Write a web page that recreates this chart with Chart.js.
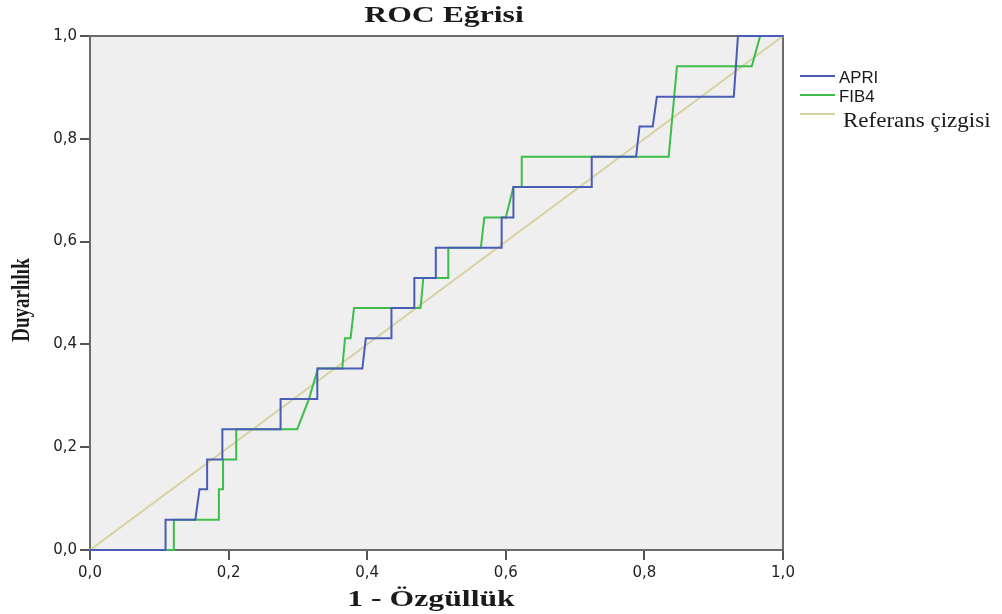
<!DOCTYPE html>
<html>
<head>
<meta charset="utf-8">
<script src="https://cdn.jsdelivr.net/npm/chart.js@4.4.1/dist/chart.umd.min.js"></script>
<style>
  html, body { margin: 0; padding: 0; background: #fff; }
</style>
</head>
<body>
<canvas id="rocChart" width="1002" height="614"></canvas>
<script>
const apriX = [0, 0.109, 0.109, 0.152, 0.158, 0.169, 0.169, 0.191, 0.191, 0.275, 0.275, 0.328, 0.328, 0.393, 0.398, 0.435, 0.435, 0.468, 0.468, 0.499, 0.499, 0.594, 0.594, 0.611, 0.611, 0.724, 0.724, 0.788, 0.793, 0.812, 0.818, 0.929, 0.935, 1];
const apriY = [0, 0, 0.059, 0.059, 0.118, 0.118, 0.176, 0.176, 0.235, 0.235, 0.294, 0.294, 0.353, 0.353, 0.412, 0.412, 0.471, 0.471, 0.529, 0.529, 0.588, 0.588, 0.647, 0.647, 0.706, 0.706, 0.765, 0.765, 0.824, 0.824, 0.882, 0.882, 1, 1];

const fib4X = [0, 0.121, 0.121, 0.186, 0.186, 0.192, 0.192, 0.211, 0.211, 0.299, 0.316, 0.329, 0.364, 0.368, 0.376, 0.381, 0.477, 0.481, 0.517, 0.517, 0.564, 0.569, 0.600, 0.611, 0.623, 0.623, 0.835, 0.847, 0.955, 0.967, 1];
const fib4Y = [0, 0, 0.059, 0.059, 0.118, 0.118, 0.176, 0.176, 0.235, 0.235, 0.294, 0.353, 0.353, 0.412, 0.412, 0.471, 0.471, 0.529, 0.529, 0.588, 0.588, 0.647, 0.647, 0.706, 0.706, 0.765, 0.765, 0.941, 0.941, 1, 1];

const refX = [0, 1];
const refY = [0, 1];

const serieNombres = ['APRI', 'FIB4', 'Referans çizgisi'];
const ejeTicks = [0, 0.2, 0.4, 0.6, 0.8, 1.0];

const tituloGrafico = 'ROC Eğrisi';
const tituloX = '1 - Özgüllük';
const tituloY = 'Duyarlılık';

// Convertir pares x/y en puntos
function puntos(xs, ys) {
    return xs.map((x, i) => ({ x: x, y: ys[i] }));
}

// Texto estirado horizontalmente (el original está ensanchado)
function textoEstirado(ctx, texto, x, y, escala) {
    ctx.save();
    ctx.translate(x, y);
    ctx.scale(escala, 1);
    ctx.fillText(texto, 0, 0);
    ctx.restore();
}

// Fondo gris y marco del área de trazado
const fondoPlugin = {
    id: 'fondo',
    beforeDatasetsDraw(chart) {
        const { ctx, chartArea: a } = chart;
        ctx.save();
        ctx.fillStyle = '#efefef';
        ctx.fillRect(a.left, a.top, a.right - a.left, a.bottom - a.top);
        ctx.strokeStyle = '#6b6b6b';
        ctx.lineWidth = 2;
        ctx.strokeRect(a.left, a.top, a.right - a.left, a.bottom - a.top);
        ctx.restore();
    }
};

// Títulos y leyenda dibujados a mano
const textosPlugin = {
    id: 'textos',
    afterDraw(chart) {
        const ctx = chart.ctx;
        ctx.save();
        ctx.fillStyle = '#1a1a1a';
        ctx.textAlign = 'center';
        ctx.textBaseline = 'alphabetic';

        ctx.font = 'bold 23px "Liberation Serif", "Times New Roman", serif';
        textoEstirado(ctx, tituloGrafico, 444, 22, 1.38);
        textoEstirado(ctx, tituloX, 431, 606, 1.38);

        // Título del eje Y (girado)
        ctx.save();
        ctx.translate(29, 300);
        ctx.rotate(-Math.PI / 2);
        ctx.scale(1, 1.35);
        ctx.font = 'bold 19px "Liberation Serif", "Times New Roman", serif';
        ctx.fillText(tituloY, 0, 0);
        ctx.restore();

        // Leyenda
        const filas = [76, 95, 114];
        chart.data.datasets.forEach((ds, i) => {
            const y = filas[i];
            ctx.strokeStyle = ds.borderColor;
            ctx.lineWidth = 2;
            ctx.beginPath();
            ctx.moveTo(800, y);
            ctx.lineTo(835, y);
            ctx.stroke();
            ctx.fillStyle = '#1a1a1a';
            ctx.textAlign = 'left';
            if (i < 2) {
                ctx.font = '16px "Liberation Sans", Arial, sans-serif';
                ctx.textBaseline = 'middle';
                textoEstirado(ctx, ds.label, 839, y + 3, 1.05);
            } else {
                ctx.font = '20px "Liberation Serif", "Times New Roman", serif';
                ctx.textBaseline = 'alphabetic';
                textoEstirado(ctx, ds.label, 843, y + 13, 1.15);
            }
        });
        ctx.restore();
    }
};

const formatoComa = v => Number(v).toFixed(1).replace('.', ',');

const ctx = document.getElementById('rocChart').getContext('2d');

new Chart(ctx, {
    type: 'scatter',
    data: {
        datasets: [
            {
                label: serieNombres[0],
                data: puntos(apriX, apriY),
                borderColor: '#4a5db6',
                showLine: true,
                borderWidth: 2,
                pointRadius: 0,
                clip: 4
            },
            {
                label: serieNombres[1],
                data: puntos(fib4X, fib4Y),
                borderColor: '#3dbe4a',
                showLine: true,
                borderWidth: 2,
                pointRadius: 0,
                clip: 4
            },
            {
                label: serieNombres[2],
                data: puntos(refX, refY),
                borderColor: '#d8d1a0',
                showLine: true,
                borderWidth: 2,
                pointRadius: 0,
                clip: 4
            }
        ]
    },
    options: {
        responsive: false,
        animation: false,
        devicePixelRatio: 1,
        layout: {
            padding: { left: 0, top: 36, right: 219, bottom: 0 }
        },
        plugins: {
            legend: { display: false },
            title: { display: false },
            tooltip: { enabled: false }
        },
        scales: {
            x: {
                type: 'linear',
                min: 0,
                max: 1,
                afterFit: s => { s.height = 64; },
                afterBuildTicks: s => { s.ticks = ejeTicks.map(v => ({ value: v })); },
                border: { display: false },
                grid: {
                    drawOnChartArea: false,
                    drawTicks: true,
                    tickLength: 10,
                    color: '#555',
                    lineWidth: 2
                },
                ticks: {
                    padding: 4,
                    color: '#222',
                    font: { family: '"DejaVu Sans", sans-serif', size: 15 },
                    callback: formatoComa
                }
            },
            y: {
                type: 'linear',
                min: 0,
                max: 1,
                afterFit: s => { s.width = 90; },
                afterBuildTicks: s => { s.ticks = ejeTicks.map(v => ({ value: v })); },
                border: { display: false },
                grid: {
                    drawOnChartArea: false,
                    drawTicks: true,
                    tickLength: 10,
                    color: '#555',
                    lineWidth: 2
                },
                ticks: {
                    padding: 3,
                    color: '#222',
                    font: { family: '"DejaVu Sans", sans-serif', size: 15 },
                    callback: formatoComa
                }
            }
        }
    },
    plugins: [fondoPlugin, textosPlugin]
});
</script>
</body>
</html>
